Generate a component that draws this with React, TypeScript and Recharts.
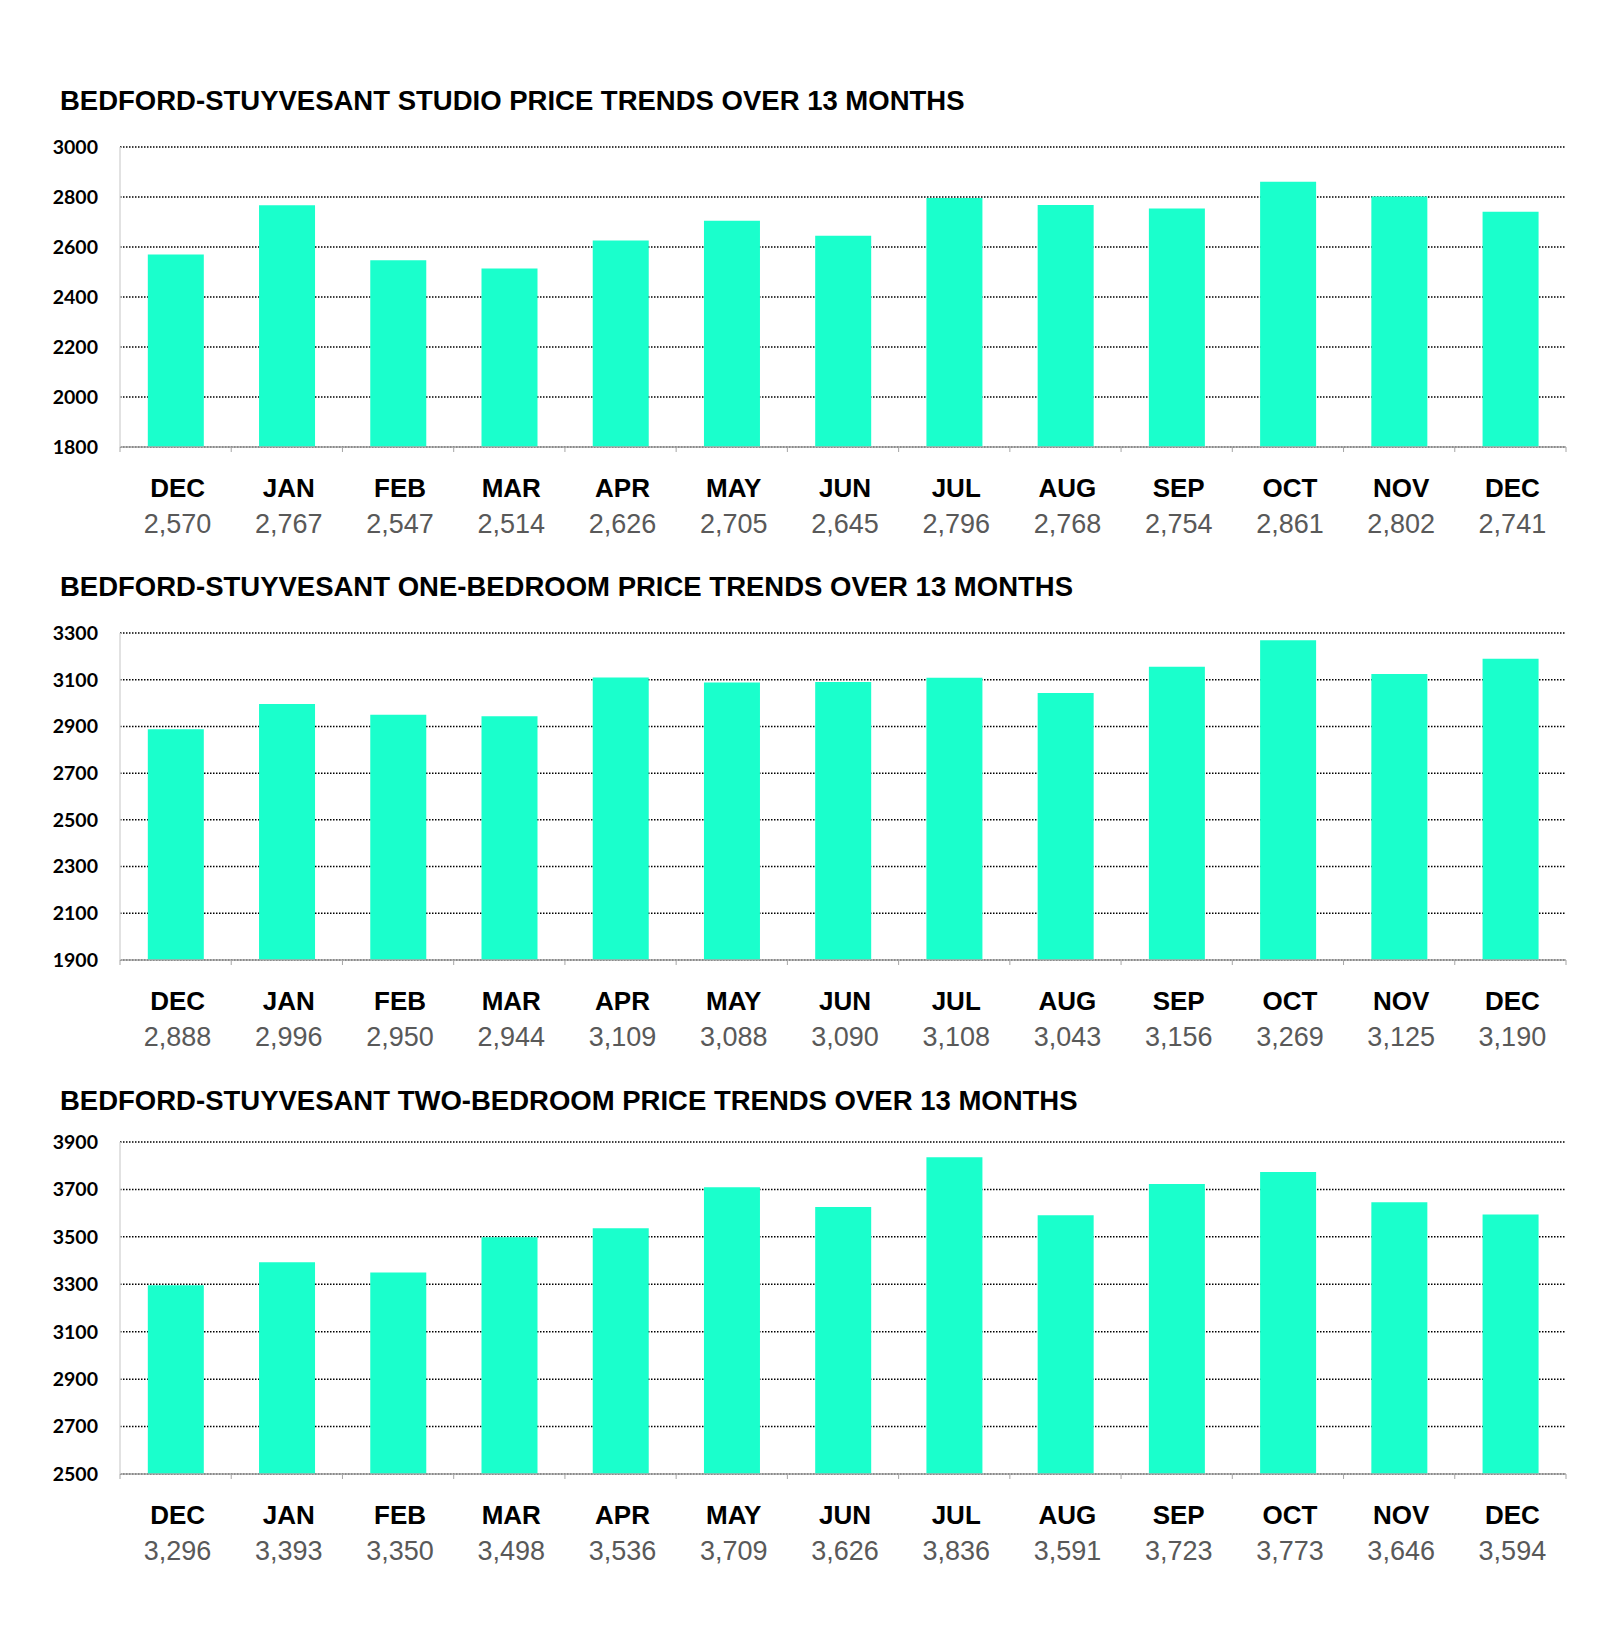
import React from 'react';
import { BarChart, Bar, XAxis, YAxis, CartesianGrid } from 'recharts';

const months = ['DEC', 'JAN', 'FEB', 'MAR', 'APR', 'MAY', 'JUN', 'JUL', 'AUG', 'SEP', 'OCT', 'NOV', 'DEC'];

const studioPrices = [2570, 2767, 2547, 2514, 2626, 2705, 2645, 2796, 2768, 2754, 2861, 2802, 2741];
const oneBedPrices = [2888, 2996, 2950, 2944, 3109, 3088, 3090, 3108, 3043, 3156, 3269, 3125, 3190];
const twoBedPrices = [3296, 3393, 3350, 3498, 3536, 3709, 3626, 3836, 3591, 3723, 3773, 3646, 3594];

const studioTicks = [1800, 2000, 2200, 2400, 2600, 2800, 3000];
const oneBedTicks = [1900, 2100, 2300, 2500, 2700, 2900, 3100, 3300];
const twoBedTicks = [2500, 2700, 2900, 3100, 3300, 3500, 3700, 3900];

const BAR_COLOR = '#1affcc';
const PLOT_LEFT = 120;
const PLOT_RIGHT = 1566;
const BAND = (PLOT_RIGHT - PLOT_LEFT) / months.length;

const fmt = (v: number) => v.toLocaleString('en-US');

function MonthTick(props: any) {
  const { x, y, payload, values } = props;
  const i = payload.index;
  const half = BAND / 2;
  return (
    <g>
      <line x1={x - half} y1={y} x2={x - half} y2={y + 5} stroke="#a6a6a6" strokeWidth={1} />
      {i === months.length - 1 && (
        <line x1={x + half} y1={y} x2={x + half} y2={y + 5} stroke="#a6a6a6" strokeWidth={1} />
      )}
      <text x={x + 2} y={y + 41} textAnchor="middle" dominantBaseline="central"
        style={{ fontFamily: '"Liberation Sans", Arial, sans-serif', fontWeight: 700, fontSize: 26, fill: '#000' }}>
        {months[i]}
      </text>
      <text x={x + 2} y={y + 77} textAnchor="middle" dominantBaseline="central"
        style={{ fontFamily: '"Liberation Sans", Arial, sans-serif', fontSize: 27, fill: '#595959' }}>
        {fmt(values[i])}
      </text>
    </g>
  );
}

interface PanelProps {
  title: string;
  titleY: number;
  plotTop: number;
  plotHeight: number;
  values: number[];
  ticks: number[];
}

function Panel({ title, titleY, plotTop, plotHeight, values, ticks }: PanelProps) {
  const data = months.map((m, i) => ({ month: m, price: values[i] }));
  const topPad = 20;
  return (
    <>
      <div style={{
        position: 'absolute', left: 60, top: titleY - 16, height: 32, lineHeight: '32px',
        fontFamily: '"Liberation Sans", Arial, sans-serif', fontWeight: 700, fontSize: 27.5,
        color: '#000', whiteSpace: 'nowrap',
      }}>
        {title}
      </div>
      <div style={{ position: 'absolute', left: 0, top: plotTop - topPad }}>
        <BarChart
          width={1600}
          height={topPad + plotHeight + 100}
          data={data}
          margin={{ top: topPad, right: 1600 - PLOT_RIGHT, left: 0, bottom: 0 }}
          barCategoryGap="25%"
        >
          <CartesianGrid vertical={false} stroke="#000" strokeDasharray="1.5 1.5" strokeWidth={1.5} yAxisId="left" />
          <XAxis
            dataKey="month"
            interval={0}
            height={100}
            axisLine={{ stroke: '#a6a6a6', strokeWidth: 1.5 }}
            tickLine={false}
            tickSize={0}
            tickMargin={0}
            tick={<MonthTick values={values} />}
          />
          <YAxis
            yAxisId="left"
            width={PLOT_LEFT}
            domain={[ticks[0], ticks[ticks.length - 1]]}
            ticks={ticks}
            interval={0}
            allowDataOverflow
            axisLine={{ stroke: '#d9d9d9', strokeWidth: 1.5 }}
            tickLine={false}
            tickSize={0}
            tickMargin={22}
            tick={{ fontFamily: 'Lato, sans-serif', fontWeight: 700, fontSize: 19.5, fill: '#000' }}
          />
          <YAxis
            yAxisId="right"
            orientation="right"
            width={0}
            tick={false}
            tickLine={false}
            axisLine={{ stroke: '#d9d9d9', strokeWidth: 1.5 }}
          />
          <Bar yAxisId="left" dataKey="price" fill={BAR_COLOR} isAnimationActive={false} />
        </BarChart>
      </div>
    </>
  );
}

export default function App() {
  return (
    <div style={{ position: 'absolute', left: 0, top: 0, width: 1600, height: 1630, background: '#fff', overflow: 'hidden' }}>
      <Panel
        title="BEDFORD-STUYVESANT STUDIO PRICE TRENDS OVER 13 MONTHS"
        titleY={101}
        plotTop={147}
        plotHeight={300}
        values={studioPrices}
        ticks={studioTicks}
      />
      <Panel
        title="BEDFORD-STUYVESANT ONE-BEDROOM PRICE TRENDS OVER 13 MONTHS"
        titleY={587}
        plotTop={633}
        plotHeight={327}
        values={oneBedPrices}
        ticks={oneBedTicks}
      />
      <Panel
        title="BEDFORD-STUYVESANT TWO-BEDROOM PRICE TRENDS OVER 13 MONTHS"
        titleY={1101}
        plotTop={1142}
        plotHeight={332}
        values={twoBedPrices}
        ticks={twoBedTicks}
      />
    </div>
  );
}
